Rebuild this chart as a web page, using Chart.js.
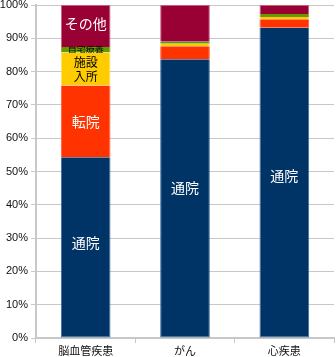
<!DOCTYPE html>
<html>
<head>
<meta charset="utf-8">
<script src="https://cdn.jsdelivr.net/npm/chart.js@4"></script>
<style>
  html, body { margin: 0; padding: 0; background: #fff; }
  #wrap { width: 336px; height: 357px; }
</style>
</head>
<body>
<div id="wrap"><canvas id="outcomeChart"></canvas></div>
<script>
var categories = ['脳血管疾患', 'がん', '心疾患'];
var tsuin = [54.3, 83.7, 93.2];
var tenin = [21.5, 3.9, 2.5];
var shisetsu = [9.9, 0.8, 0.7];
var jitaku = [1.7, 0.6, 0.9];
var sonota = [12.6, 11.0, 2.7];
var yTicks = [0, 10, 20, 30, 40, 50, 60, 70, 80, 90, 100];

// text written inside each segment (null = nothing)
var segmentLabels = {
    '通院': ['通院', '通院', '通院'],
    '転院': ['転院', null, null],
    '施設入所': ['施設\n入所', null, null],
    '自宅療養': ['自宅療養', null, null],
    'その他': ['その他', null, null]
};

var labelStyle = {
    '通院': { color: '#fff', size: 14, dy: [-5, -11, -7] },
    '転院': { color: '#fff', size: 14 },
    '施設入所': { color: '#000', size: 12, lineHeight: 14 },
    '自宅療養': { color: '#000', size: 9, squash: 0.75 },
    'その他': { color: '#fff', size: 14, dy: [-2] }
};

var segmentText = {
    id: 'segmentText',
    afterDatasetsDraw: function (chart) {
        var ctx = chart.ctx;
        chart.data.datasets.forEach(function (ds, i) {
            var texts = segmentLabels[ds.label];
            var style = labelStyle[ds.label];
            if (!texts) return;
            chart.getDatasetMeta(i).data.forEach(function (bar, j) {
                if (!texts[j]) return;
                var lines = texts[j].split('\n');
                var lh = style.lineHeight || style.size;
                var cy = (bar.y + bar.base) / 2 + (style.dy ? style.dy[j] || 0 : 0);
                ctx.save();
                ctx.fillStyle = style.color;
                ctx.font = style.size + "px 'Noto Sans CJK JP'";
                ctx.textAlign = 'center';
                ctx.textBaseline = 'middle';
                ctx.translate(bar.x, cy);
                if (style.squash) ctx.scale(1, style.squash);
                lines.forEach(function (line, k) {
                    ctx.fillText(line, 0, (k - (lines.length - 1) / 2) * lh);
                });
                ctx.restore();
            });
        });
    }
};

function segment(label, values, color, edge) {
    return {
        label: label,
        data: values,
        backgroundColor: color,
        borderColor: edge,
        borderWidth: 1,
        borderSkipped: 'middle'
    };
}

new Chart(document.getElementById('outcomeChart'), {
    type: 'bar',
    data: {
        labels: categories,
        datasets: [
            segment('通院', tsuin, '#003366', '#3c6ea3'),
            segment('転院', tenin, '#ff3300', '#ff5c33'),
            segment('施設入所', shisetsu, '#ffcc00', '#ffe066'),
            segment('自宅療養', jitaku, '#669900', '#7fa81a'),
            segment('その他', sonota, '#990033', '#c26080')
        ]
    },
    options: {
        responsive: true,
        maintainAspectRatio: false,
        animation: false,
        layout: { padding: { top: 5, right: 2, left: 0, bottom: 0 } },
        datasets: { bar: { categoryPercentage: 1, barPercentage: 0.5 } },
        plugins: {
            legend: { display: false },
            tooltip: { enabled: false }
        },
        scales: {
            x: {
                stacked: true,
                afterFit: function (scale) { scale.height = 19; },
                grid: { drawOnChartArea: false, color: '#c8c8c8', tickLength: 5, offset: true },
                border: { color: '#c8c8c8', width: 2 },
                ticks: {
                    color: '#111',
                    padding: 1,
                    font: { family: "'Noto Sans CJK JP'", size: 11 }
                }
            },
            y: {
                stacked: true,
                min: 0,
                max: 100,
                afterFit: function (scale) {
                    scale.width = 36;
                    scale.paddingTop = 0;
                    scale.paddingBottom = 0;
                },
                afterBuildTicks: function (scale) {
                    scale.ticks = yTicks.map(function (v) { return { value: v }; });
                },
                grid: { color: '#c8c8c8', tickLength: 5 },
                border: { color: '#c8c8c8', width: 2 },
                ticks: {
                    color: '#111',
                    padding: 3,
                    font: { family: "'Liberation Sans', Arial", size: 11 },
                    callback: function (v) { return v + '%'; }
                }
            }
        }
    },
    plugins: [segmentText]
});
</script>
</body>
</html>
